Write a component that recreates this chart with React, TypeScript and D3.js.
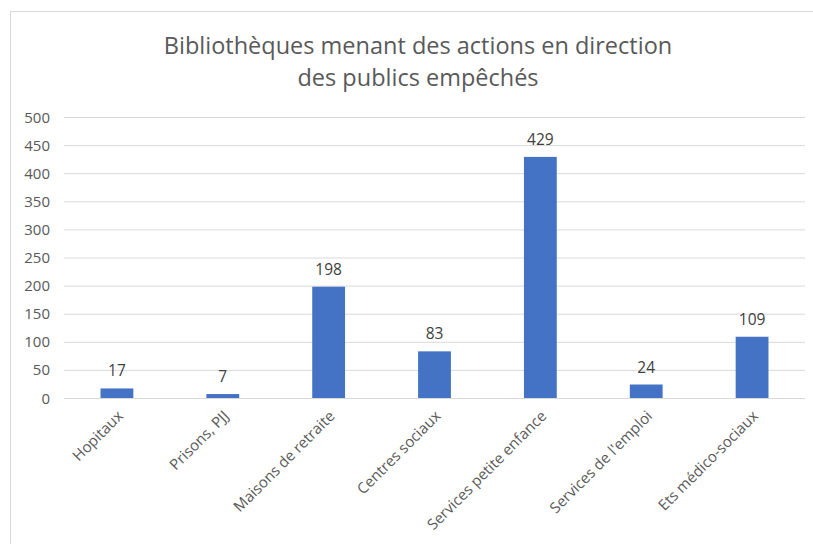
import React, { useEffect, useRef } from 'react';
import * as d3 from 'd3';

const CATEGORIES = [
  'Hopitaux',
  'Prisons, PJJ',
  'Maisons de retraite',
  'Centres sociaux',
  'Services petite enfance',
  "Services de l'emploi",
  'Ets médico-sociaux'
];
const VALUES = [17, 7, 198, 83, 429, 24, 109];
const Y_TICKS = [0, 50, 100, 150, 200, 250, 300, 350, 400, 450, 500];
const TITLE_LINES = ['Bibliothèques menant des actions en direction', 'des publics empêchés'];

export default function App() {
  const svgRef = useRef<SVGSVGElement>(null);

  useEffect(() => {
    if (!svgRef.current) return;
    const width = 813;
    const height = 544;
    const svg = d3.select(svgRef.current);
    svg.selectAll('*').remove();
    svg.attr('viewBox', `0 0 ${width} ${height}`);

    const font = "'Open Sans', 'Noto Sans', sans-serif";

    // chart frame
    svg.append('rect')
      .attr('x', 10.5).attr('y', 11.5)
      .attr('width', 820).attr('height', 560)
      .attr('fill', '#fff')
      .attr('stroke', '#d9d9d9');

    const x = d3.scaleBand().domain(CATEGORIES).range([64, 805]).paddingInner(0.69).paddingOuter(0.345);
    const y = d3.scaleLinear().domain([0, 500]).range([398, 117]);

    // title
    svg.append('g').selectAll('text')
      .data(TITLE_LINES)
      .enter()
      .append('text')
      .text(d => d)
      .attr('x', 418)
      .attr('y', (d, i) => 54 + i * 32)
      .attr('text-anchor', 'middle')
      .attr('font-family', font)
      .attr('font-size', '23.5px')
      .attr('fill', '#595959');

    // grid
    svg.append('g').selectAll('line')
      .data(Y_TICKS)
      .enter()
      .append('line')
      .attr('x1', 64).attr('x2', 805)
      .attr('y1', d => y(d) + 0.5).attr('y2', d => y(d) + 0.5)
      .attr('stroke', '#d9d9d9')
      .attr('stroke-width', 1);

    svg.append('g').selectAll('text')
      .data(Y_TICKS)
      .enter()
      .append('text')
      .text(d => d)
      .attr('x', 50)
      .attr('y', d => y(d) + 5.5)
      .attr('text-anchor', 'end')
      .attr('font-family', font)
      .attr('font-size', '15px')
      .attr('fill', '#595959');

    // bars
    svg.append('g').selectAll('rect')
      .data(VALUES)
      .enter()
      .append('rect')
      .attr('x', (d, i) => x(CATEGORIES[i])!)
      .attr('y', d => y(d))
      .attr('width', x.bandwidth())
      .attr('height', d => y(0) - y(d))
      .attr('fill', '#4472c4');

    // data labels
    svg.append('g').selectAll('text')
      .data(VALUES)
      .enter()
      .append('text')
      .text(d => d)
      .attr('x', (d, i) => x(CATEGORIES[i])! + x.bandwidth() / 2)
      .attr('y', d => y(d) - 12)
      .attr('text-anchor', 'middle')
      .attr('font-family', font)
      .attr('font-size', '15.5px')
      .attr('fill', '#404040');

    // x labels
    svg.append('g').selectAll('text')
      .data(CATEGORIES)
      .enter()
      .append('text')
      .text(d => d)
      .attr('transform', d => `translate(${x(d)! + x.bandwidth() / 2 + 7},${417}) rotate(-45)`)
      .attr('text-anchor', 'end')
      .attr('font-family', font)
      .attr('font-size', '15px')
      .attr('fill', '#595959');
  }, []);

  return (
    <svg ref={svgRef} width={813} height={544} style={{ position: 'absolute', left: 0, top: 0, display: 'block' }}></svg>
  );
}
